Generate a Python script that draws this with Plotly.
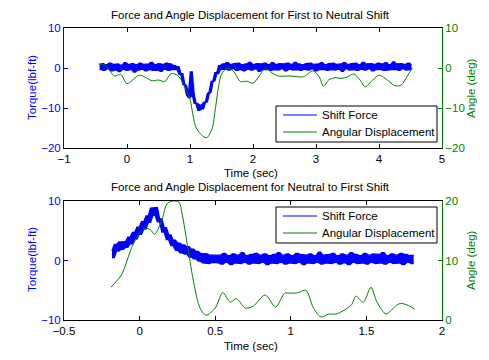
import numpy as np
import plotly.graph_objects as go

# ---------------- data: top panel (First to Neutral) ----------------
top_force_seg1 = [0.9, -0.4, 1.1, -0.6, 0.8, -0.2, 1.2, -0.7, 0.9, -0.5, 1.0, -0.9, 0.7, -0.3, 1.3, -0.6,
                  0.9, -0.4, 1.1, -1.0, 0.8, -0.5, 1.2, -0.3, 0.9, -0.7, 1.0, -0.4, 1.4, -0.6, 0.8, -0.5,
                  1.1, -0.8, 0.9, -0.3, 1.2, -0.6, 1.0, -0.4, 0.6]
top_force_seg2 = [-0.4, 0.3, -1.6, -1.4, -4.0, -4.4, -6.8, -7.4, -1.0, -6.5, -8.8, -8.9, -10.6, -9.3,
                  -10.2, -8.6, -8.5, -6.4, -6.0, -3.4, -3.2, -1.2, -1.4, 0.6, -0.3]
top_force_seg3 = [1.0, -0.3, 1.3, -0.5, 0.9, -0.2, 1.1, -0.6, 1.2, -0.4, 0.8, -0.7, 1.0, -0.3, 1.4, -0.5,
                  0.9, -0.2, 1.1, -0.8, 1.0, -0.4, 1.2, -0.3, 0.8, -0.6, 1.3, -0.4, 0.9, -0.5, 1.1, -0.2,
                  1.0, -0.7, 1.2, -0.3, 0.9, -0.5, 1.4, -0.4, 1.0, -0.6, 0.8, -0.3, 1.1, -0.5, 1.2, -0.2,
                  0.9, -0.7, 1.0, -0.4, 1.3, -0.3, 0.8, -0.6, 1.1, -0.4, 1.2, -0.5, 0.9, -0.3, 1.0, -0.8,
                  1.3, -0.2, 0.9, -0.5, 1.1, -0.4, 1.2, -0.6, 0.8, -0.3, 1.4, -0.5, 1.0, -0.2, 1.1, -0.7,
                  0.9, -0.4, 1.2, -0.3, 1.0, -0.6, 1.3, -0.5, 0.8, -0.4, 1.5, -0.3, 1.0, -0.6, 1.1, -0.2,
                  0.9, -0.5, 1.2, -0.4, 0.7]
top_force_spans = [(-0.45, 0.75), (0.78, 1.50), (1.53, 4.53)]

top_angle_t = [-0.45, -0.35, -0.2, -0.1, 0.0, 0.2, 0.4, 0.5, 0.6, 0.7, 0.8, 0.9, 0.95, 1.0, 1.05, 1.1,
               1.2, 1.27, 1.35, 1.4, 1.45, 1.5, 1.6, 1.7, 1.8, 1.9, 2.0, 2.1, 2.2, 2.3, 2.4, 2.6, 2.8,
               2.95, 3.05, 3.12, 3.2, 3.3, 3.4, 3.5, 3.6, 3.7, 3.78, 3.9, 4.0, 4.1, 4.25, 4.35, 4.45, 4.53]
top_angle = [1.0, 0.8, -2.0, -1.6, -3.9, -1.8, -3.2, -3.0, -3.4, -1.4, -1.8, -4.0, -6.0, -7.8, -12.0, -15.0,
             -17.0, -17.4, -15.2, -10.5, -5.0, -1.5, 0.0, -1.0, -3.4, -3.3, -3.8, -2.0, 0.0, -1.2, -2.0,
             -2.0, -2.2, -0.7, -2.2, -4.6, -3.0, -2.4, -2.6, -2.2, -1.5, -3.0, -4.7, -3.0, -1.8, -2.6,
             -4.4, -4.3, -2.0, 0.0]

# ---------------- data: bottom panel (Neutral to First) ----------------
bot_force_seg1 = [1.6, 0.5, 2.7, 1.6, 3.1, 1.9, 3.2, 2.2, 3.9, 2.8, 4.7, 3.6, 5.6, 4.4, 6.5, 5.3, 7.5, 6.4,
                  8.8, 7.6, 8.9, 6.5, 7.0, 4.8, 5.5, 3.5, 4.3, 2.5, 3.4, 1.7, 2.9, 1.3, 2.6, 1.1, 2.3, 0.6,
                  1.9, 0.3, 1.5, -0.1, 1.2, -0.4, 1.1, -0.5, 0.9, -0.3]
bot_force_seg2 = [1.0, -0.4, 0.9, -0.6, 1.2, -0.3, 0.8, -0.7, 1.1, -0.4, 0.9, -0.5, 1.3, -0.3, 0.8, -0.6,
                  1.0, -0.4, 1.2, -0.5, 0.9, -0.3, 1.1, -0.7, 0.8, -0.4, 1.0, -0.5, 1.3, -0.3, 0.9, -0.6,
                  1.1, -0.4, 0.8, -0.5, 1.2, -0.3, 1.0, -0.7, 0.9, -0.4, 1.1, -0.5, 0.8, -0.3, 1.4, -0.6,
                  0.9, -0.4, 1.0, -0.5, 1.2, -0.3, 0.8, -0.6, 1.1, -0.4, 0.9, -0.7, 1.3, -0.3, 1.0, -0.5,
                  0.8, -0.4, 1.2, -0.6, 0.9, -0.3, 1.1, -0.5, 1.0, -0.4, 1.3, -0.6, 0.8, -0.3, 1.1, -0.5,
                  0.9, -0.4, 1.2, -0.7, 1.0, -0.3, 0.8, -0.5, 0.9]
bot_force_spans = [(-0.19, 0.485), (0.50, 1.82)]

bot_angle_t = [-0.19, -0.12, -0.05, 0.0, 0.03, 0.07, 0.1, 0.15, 0.18, 0.22, 0.26, 0.28, 0.32, 0.36, 0.4,
               0.44, 0.5, 0.55, 0.6, 0.64, 0.7, 0.75, 0.83, 0.9, 0.96, 1.0, 1.05, 1.1, 1.15, 1.2, 1.25,
               1.3, 1.4, 1.43, 1.48, 1.53, 1.57, 1.63, 1.7, 1.73, 1.78, 1.82]
bot_angle = [5.5, 7.6, 12.3, 14.6, 15.4, 15.2, 14.4, 17.0, 19.5, 20.0, 19.8, 18.0, 12.0, 6.0, 2.0,
             0.8, 2.0, 4.6, 3.0, 3.6, 2.0, 2.3, 4.2, 2.2, 4.5, 4.5, 4.6, 5.0, 2.0, 0.5, 1.0,
             1.0, 2.5, 4.0, 3.0, 5.5, 3.0, 1.0, 2.5, 2.8, 2.4, 1.8]

top_title = "Force and Angle Displacement for First to Neutral Shift"
bot_title = "Force and Angle Displacement for Neutral to First Shift"
x_label = "Time (sec)"
yl_label = "Torque(lbf-ft)"
yr_label = "Angle (deg)"
legend_names = ["Shift Force", "Angular Displacement"]


def build(segs, spans):
    ts, vs = [], []
    for seg, (a, b) in zip(segs, spans):
        ts.append(np.linspace(a, b, len(seg)))
        vs.append(np.array(seg, dtype=float))
    return np.concatenate(ts), np.concatenate(vs)


def band(t, v):
    # the dense noisy signal covers, between two samples, everything between them
    tm = (t[:-1] + t[1:]) / 2
    return tm, np.minimum(v[:-1], v[1:]), np.maximum(v[:-1], v[1:])


top_ft, top_fv = build([top_force_seg1, top_force_seg2, top_force_seg3], top_force_spans)
bot_ft, bot_fv = build([bot_force_seg1, bot_force_seg2], bot_force_spans)

BLUE = "#0000FF"
GREEN = "#008000"
FONT = "Liberation Sans, Arial, sans-serif"
FS = 11.5

fig = go.Figure()
for (t, v, xa, ya, ta, av, ya2) in [
    (top_ft, top_fv, "x", "y", top_angle_t, top_angle, "y2"),
    (bot_ft, bot_fv, "x2", "y3", bot_angle_t, bot_angle, "y4"),
]:
    tm, lo, hi = band(t, v)
    fig.add_trace(go.Scatter(x=tm, y=lo, mode="lines", line=dict(color=BLUE, width=1.4),
                             name=legend_names[0], xaxis=xa, yaxis=ya, hoverinfo="skip"))
    fig.add_trace(go.Scatter(x=tm, y=hi, mode="lines", line=dict(color=BLUE, width=1.4),
                             fill="tonexty", fillcolor=BLUE,
                             name=legend_names[0], xaxis=xa, yaxis=ya))
    fig.add_trace(go.Scatter(x=ta, y=av, mode="lines",
                             line=dict(color=GREEN, width=1, shape="spline", smoothing=0.8),
                             name=legend_names[1], xaxis=xa, yaxis=ya2))

W, H = 489, 360
xd = [64 / W, 442 / W]
top_dom = [1 - 148 / H, 1 - 28 / H]
bot_dom = [1 - 320 / H, 1 - 201 / H]

common_x = dict(showgrid=False, zeroline=False, showline=True, linecolor="black", linewidth=1,
                mirror="ticks", ticks="inside", ticklen=4, tickcolor="black", automargin=False,
                tickfont=dict(size=FS, color="black", family=FONT), domain=xd)
common_y = dict(showgrid=False, zeroline=False, showline=True, linewidth=1, ticks="inside", ticklen=4,
                automargin=False)

fig.update_layout(
    width=W, height=H, margin=dict(l=0, r=0, t=0, b=0, autoexpand=False),
    paper_bgcolor="white", plot_bgcolor="white",
    font=dict(family=FONT, size=FS, color="black"),
    showlegend=False,
    xaxis=dict(common_x, range=[-1, 5], dtick=1, anchor="y"),
    xaxis2=dict(common_x, range=[-0.5, 2], dtick=0.5, anchor="y3"),
    yaxis=dict(common_y, domain=top_dom, range=[-20, 10], dtick=10, linecolor=BLUE, tickcolor=BLUE,
               tickfont=dict(size=FS, color=BLUE), anchor="x"),
    yaxis2=dict(common_y, range=[-20, 10], dtick=10, linecolor=GREEN, tickcolor=GREEN,
                tickfont=dict(size=FS, color=GREEN), overlaying="y", side="right", anchor="x"),
    yaxis3=dict(common_y, domain=bot_dom, range=[-10, 10], dtick=10, linecolor=BLUE, tickcolor=BLUE,
                tickfont=dict(size=FS, color=BLUE), anchor="x2"),
    yaxis4=dict(common_y, range=[0, 20], dtick=10, linecolor=GREEN, tickcolor=GREEN,
                tickfont=dict(size=FS, color=GREEN), overlaying="y3", side="right", anchor="x2"),
)

ann = []
for txt, x, y, ang, col in [
    (top_title, 251 / W, 1 - 15 / H, 0, "black"),
    (bot_title, 251 / W, 1 - 187 / H, 0, "black"),
    (x_label, 251 / W, 1 - 173 / H, 0, "black"),
    (x_label, 251 / W, 1 - 346 / H, 0, "black"),
    (yl_label, 32 / W, 1 - 88 / H, -90, BLUE),
    (yl_label, 32 / W, 1 - 260 / H, -90, BLUE),
    (yr_label, 471 / W, 1 - 88 / H, -90, GREEN),
    (yr_label, 471 / W, 1 - 260 / H, -90, GREEN),
]:
    ann.append(dict(text=txt, x=x, y=y, xref="paper", yref="paper", showarrow=False,
                    xanchor="center", yanchor="middle", textangle=ang,
                    font=dict(size=FS, color=col, family=FONT)))

# legend boxes (decoration, one per panel)
shapes = []
for (top_px, bot_px, row1, row2) in [(106, 142, 115, 132), (207, 243, 216, 233)]:
    shapes.append(dict(type="rect", xref="paper", yref="paper",
                       x0=276 / W, x1=437 / W, y0=1 - bot_px / H, y1=1 - top_px / H,
                       line=dict(color="black", width=1), fillcolor="white", layer="above"))
    for row, col, name in [(row1, BLUE, legend_names[0]), (row2, GREEN, legend_names[1])]:
        shapes.append(dict(type="line", xref="paper", yref="paper",
                           x0=283 / W, x1=317 / W, y0=1 - row / H, y1=1 - row / H,
                           line=dict(color=col, width=1), layer="above"))
        ann.append(dict(text=name, x=320 / W, y=1 - row / H, xref="paper", yref="paper",
                        showarrow=False, xanchor="left", yanchor="middle",
                        font=dict(size=FS, color="black", family=FONT)))

fig.update_layout(annotations=ann, shapes=shapes)

fig.write_html("out.html", config={"displayModeBar": False},
               post_script="document.body.style.margin='0';")
